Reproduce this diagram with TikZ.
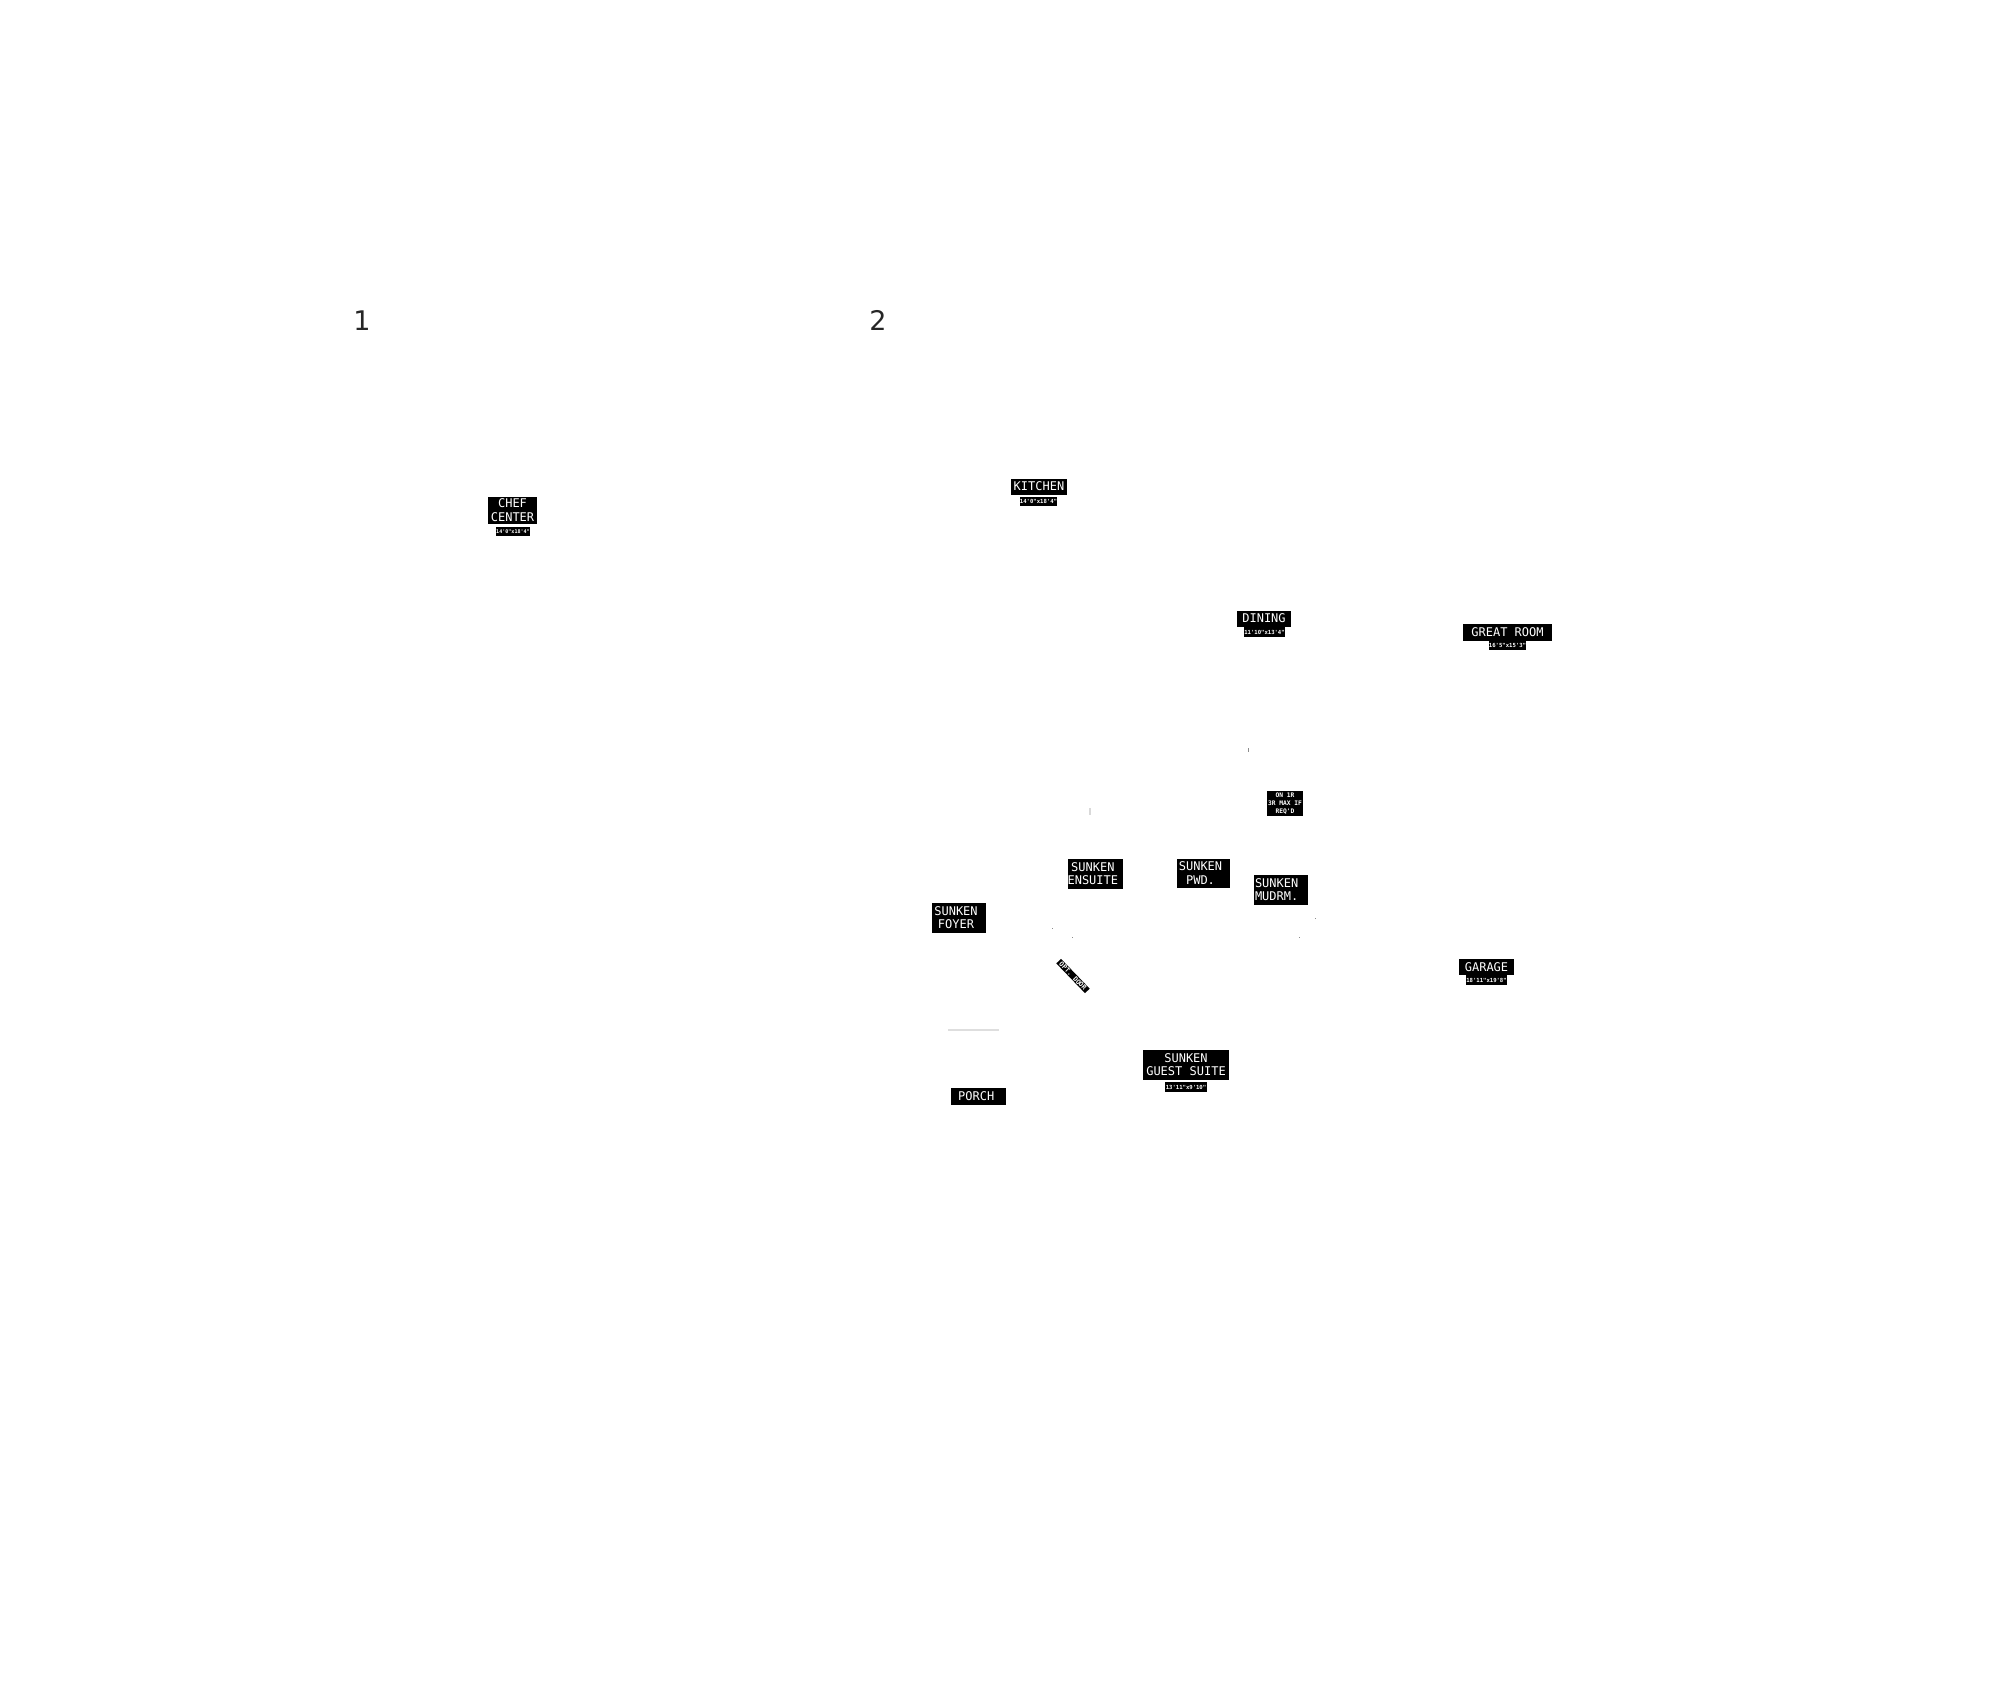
\documentclass[tikz,border=0pt]{standalone}
\usepackage{fontspec}
\setmainfont{DejaVu Sans}
\newfontfamily\lblfont{DejaVu Sans Mono}
\newcommand\lbtext[2]{\makebox[0pt]{\hspace*{#1}\raisebox{0pt}[\dimexpr\height+1pt\relax][\dimexpr\depth-1pt\relax]{\begin{tabular}[c]{@{}c@{}}#2\end{tabular}}}}
\tikzset{
  room/.style={fill=black,text=white,inner sep=0pt,rectangle,font=\lblfont\fontsize{9}{10.1}\selectfont},
  dimtag/.style={fill=black,text=white,inner sep=0pt,rectangle,font=\lblfont\bfseries\fontsize{4.2}{6}\selectfont},
  sheetno/.style={inner sep=0pt,text=black!85,font=\fontsize{20.25}{24}\selectfont},
  speck/.style={fill=black!45,draw=none},
  rulemark/.style={draw=black!13,line width=1.1pt}
}
\begin{document}
\begin{tikzpicture}[x=0.75pt,y=-0.75pt]
\useasboundingbox[fill=white] (0,0) rectangle (2000,1706);
\node[sheetno] (one) at (362,321) {1};
\node[sheetno] (two) at (878,320.5) {2};
% rooms: width and height in picture units (1 unit = 0.75pt)
\node[room,minimum width=36.75pt,minimum height=20.25pt] (chef) at (512.5,510.5) {\lbtext{0pt}{CHEF\\CENTER}};
\node[dimtag,minimum width=25.5pt,minimum height=6.75pt] (chefdim) at (513,531.5) {\fontsize{3.8}{6}\selectfont 14'0"x18'4"};
\node[room,minimum width=42pt,minimum height=12pt] (kitchen) at (1039,487) {\raisebox{0.7pt}{KITCHEN}};
\node[dimtag,minimum width=27.75pt,minimum height=6.75pt] (kitchendim) at (1038.5,501.5) {14'0"x18'4"};
\node[room,minimum width=40.5pt,minimum height=12pt] (dining) at (1264,619) {\raisebox{0.7pt}{DINING}};
\node[dimtag,minimum width=30.75pt,minimum height=7.5pt] (diningdim) at (1264.5,632) {11'10"x13'4"};
\node[room,minimum width=66.75pt,minimum height=12.75pt] (great) at (1507.5,632.5) {\raisebox{0.7pt}{GREAT ROOM}};
\node[dimtag,minimum width=27.75pt,minimum height=6.75pt] (greatdim) at (1507.5,645.5) {16'5"x15'3"};
\node[dimtag,font=\lblfont\bfseries\fontsize{4.7}{6}\selectfont,minimum width=27pt,minimum height=18.75pt] (onerise) at (1285,803.5) {\begin{tabular}[c]{@{}c@{}}ON 1R\\3R MAX IF\\REQ'D\end{tabular}};
\node[room,minimum width=41.25pt,minimum height=22.5pt] (ensuite) at (1095.5,874) {\lbtext{-4pt}{SUNKEN\\ENSUITE}};
\node[room,minimum width=40.5pt,minimum height=22.5pt] (foyer) at (959,918) {\lbtext{-4.5pt}{SUNKEN\\FOYER}};
\node[room,minimum width=39.75pt,minimum height=21.75pt] (pwd) at (1203.5,873.5) {\lbtext{-4.5pt}{SUNKEN\\PWD.}};
\node[room,minimum width=40.5pt,minimum height=22.5pt] (mudrm) at (1281,890) {\lbtext{-6.5pt}{SUNKEN\\MUDRM.}};
\node[dimtag,font=\lblfont\bfseries\fontsize{5}{6}\selectfont,rotate=-46,minimum width=31pt,minimum height=4.9pt] (optdoor) at (1073,976) {OPT. DOOR};
\node[room,minimum width=41.25pt,minimum height=12pt] (garage) at (1486.5,967) {GARAGE};
\node[dimtag,minimum width=30.75pt,minimum height=7.5pt] (garagedim) at (1486.5,980) {18'11"x19'8"};
\node[room,minimum width=41.25pt,minimum height=12.75pt] (porch) at (978.5,1096.5) {\makebox[0pt]{\hspace*{-3.5pt}PORCH}};
\node[room,minimum width=64.5pt,minimum height=22.5pt] (guest) at (1186,1065) {\lbtext{0pt}{SUNKEN\\GUEST SUITE}};
\node[dimtag,minimum width=31.5pt,minimum height=7.5pt] (guestdim) at (1186,1087) {13'11"x9'10"};
% faint marks
\draw[rulemark] (948,1030) -- (999,1030);
\fill[speck] (1248,748) rectangle (1249,752);
\fill[speck,fill=black!15] (1089,808) rectangle (1091,815);
\fill[speck] (1051.5,927.5) rectangle (1052.5,928.5);
\fill[speck] (1071.5,936.5) rectangle (1072.5,937.5);
\fill[speck] (1314.5,917.5) rectangle (1315.5,918.5);
\fill[speck] (1298.5,936.5) rectangle (1299.5,937.5);
\end{tikzpicture}
\end{document}
